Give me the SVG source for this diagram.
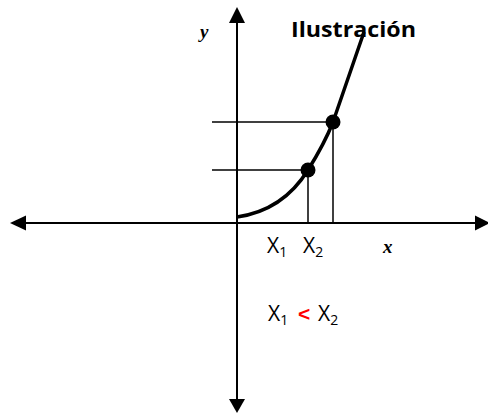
<svg xmlns="http://www.w3.org/2000/svg" width="488" height="414" viewBox="0 0 488 414">
<style>
.axis{stroke:#000;stroke-width:2;fill:none}
.guide{stroke:#000;stroke-width:1.5;fill:none}
.curve{stroke:#000;stroke-width:3.5;fill:none;stroke-linecap:butt}
.head{fill:#000}
.lbl{font-family:"Open Sans","Liberation Sans",Arial,sans-serif;font-size:21px}
.sub{font-size:14px}
.var{font-family:"Liberation Serif","Times New Roman",serif;font-style:italic;font-weight:bold;font-size:19px;fill:#000}
.title{font-family:"Open Sans","Liberation Sans",sans-serif;font-weight:bold;font-size:22px;fill:#000}
.red{font-family:"Liberation Sans",Arial,sans-serif;font-size:21px;fill:#ff0000;font-weight:bold}
.blk{fill:#000}
</style>
<rect width="488" height="414" fill="#fff"/>
<g id="axes">
<line class="axis" x1="24" y1="223" x2="478" y2="223"/>
<line class="axis" x1="237" y1="20" x2="237" y2="401"/>
<polygon class="head" points="10,223 26,215.5 26,230.5"/>
<polygon class="head" points="490,223 475,215.5 475,230.5"/>
<polygon class="head" points="237,7 229,23 245,23"/>
<polygon class="head" points="237,413 229,399 245,399"/>
</g>
<g id="guides">
<line class="guide" x1="212" y1="122" x2="333" y2="122"/>
<line class="guide" x1="212" y1="170" x2="308" y2="170"/>
<line class="guide" x1="308" y1="170" x2="308" y2="223"/>
<line class="guide" x1="333" y1="122" x2="333" y2="223"/>
</g>
<g id="curve">
<path class="curve" d="M237,217 C265,213 290,199 308,170 C318,154 326,140 333,122 L364,32"/>
<circle cx="308" cy="170" r="7.5" fill="#000"/>
<circle cx="333" cy="122" r="7.5" fill="#000"/>
</g>
<g id="labels">
<text class="title" x="291" y="37" textLength="125" lengthAdjust="spacingAndGlyphs">Ilustración</text>
<text class="var" x="200" y="38">y</text>
<text class="var" x="383" y="253">x</text>
<text class="lbl blk" x="267" y="253">X<tspan class="sub" dy="4">1</tspan></text>
<text class="lbl blk" x="303" y="253">X<tspan class="sub" dy="4">2</tspan></text>
<text class="lbl blk" x="268" y="321">X<tspan class="sub" dy="4">1</tspan></text>
<text class="red" x="298" y="321">&lt;</text>
<text class="lbl blk" x="318" y="321">X<tspan class="sub" dy="4">2</tspan></text>
</g>
</svg>
